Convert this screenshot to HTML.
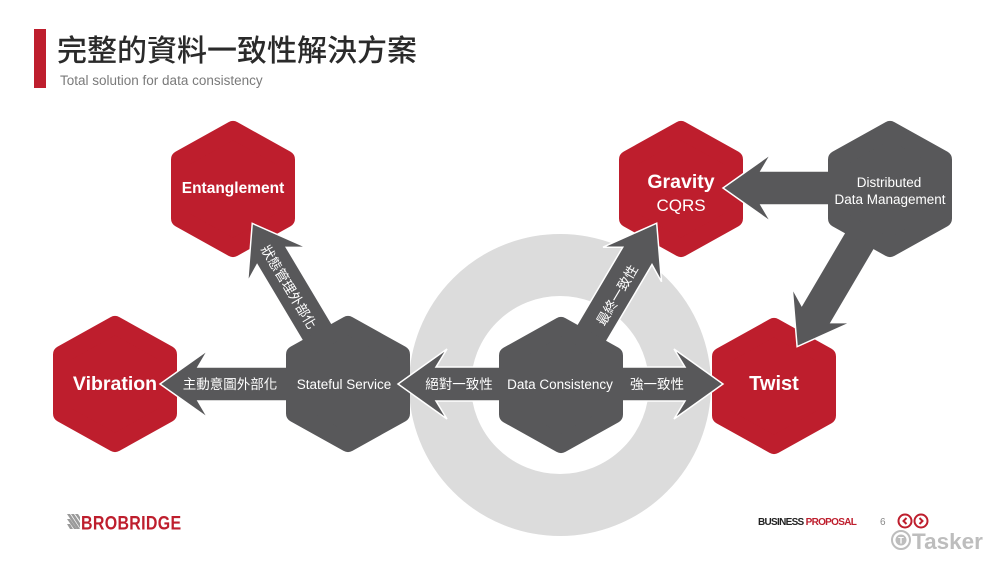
<!DOCTYPE html>
<html><head><meta charset="utf-8"><style>
html,body{margin:0;padding:0;background:#fff;}
body{width:1000px;height:562px;overflow:hidden;position:relative;}
svg{display:block;}
text{font-family:"Liberation Sans","Noto Sans CJK TC",sans-serif;}
</style></head><body>
<svg width="1000" height="562" viewBox="0 0 1000 562" xmlns="http://www.w3.org/2000/svg">
<defs>
<polygon id="hx" points="0,-59 53,-29.5 53,29.5 0,59 -53,29.5 -53,-29.5" stroke-width="18" stroke-linejoin="round"/>
</defs>
<!-- header -->
<rect x="34" y="29" width="12" height="59" fill="#be1e2d"/>
<text x="57" y="61" font-size="30" font-weight="500" fill="#2a2a2a">完整的資料一致性解決方案</text>
<text x="60" y="85" font-size="13.5" fill="#7a7a7a">Total solution for data consistency</text>

<!-- ring -->
<circle cx="560" cy="385" r="120" fill="none" stroke="#dcdcdc" stroke-width="62"/>

<!-- red hexagons -->
<g fill="#be1e2d" stroke="#be1e2d">
<use href="#hx" transform="translate(233,189)"/>
<use href="#hx" transform="translate(115,384)"/>
<use href="#hx" transform="translate(681,189)"/>
<use href="#hx" transform="translate(774,386)"/>
</g>

<!-- arrows from Stateful -->
<g fill="#58585a" stroke="#fff" stroke-width="1.5" stroke-linejoin="miter">
<polygon transform="translate(348,384) rotate(180)" points="0,-17 150,-17 140,-34 188,0 140,34 150,17 0,17"/>
<polygon transform="translate(348,384) rotate(-120.8)" points="0,-17 149,-17 139,-34 187,0 139,34 149,17 0,17"/>
</g>
<use href="#hx" transform="translate(348,384)" fill="#58585a" stroke="#58585a"/>

<!-- arrows from Data Consistency -->
<g fill="#58585a" stroke="#fff" stroke-width="1.5">
<polygon transform="translate(561,384) rotate(180)" points="0,-17 125,-17 114,-35 163,0 114,35 125,17 0,17"/>
<polygon transform="translate(561,384)" points="0,-17 124,-17 113,-35 162,0 113,35 124,17 0,17"/>
<polygon transform="translate(561,385) rotate(-59.4)" points="0,-17 150,-17 140,-34 188,0 140,34 150,17 0,17"/>
</g>
<use href="#hx" transform="translate(561,385)" fill="#58585a" stroke="#58585a"/>

<!-- arrows from Distributed -->
<g fill="#58585a" stroke="#fff" stroke-width="1.5">
<polygon transform="translate(890,188) rotate(180)" points="0,-17 129,-17 119,-34 167,0 119,34 129,17 0,17"/>
<polygon transform="translate(890,189) rotate(120.5)" points="0,-17 145,-17 135,-34 183,0 135,34 145,17 0,17"/>
</g>
<use href="#hx" transform="translate(890,189)" fill="#58585a" stroke="#58585a"/>

<!-- hex labels -->
<g fill="#fff" text-anchor="middle">
<text x="233" y="193" font-size="15.5" font-weight="bold">Entanglement</text>
<text x="115" y="390" font-size="19.5" font-weight="bold">Vibration</text>
<text x="774" y="390" font-size="20" font-weight="bold">Twist</text>
<text x="681" y="188" font-size="19.5" font-weight="bold">Gravity</text>
<text x="681" y="211" font-size="17">CQRS</text>
<text x="344" y="389" font-size="13.5">Stateful Service</text>
<text x="560" y="389" font-size="13.5">Data Consistency</text>
<text x="889" y="187" font-size="13.5">Distributed</text>
<text x="890" y="204" font-size="13.5">Data Management</text>
<!-- arrow labels -->
<text x="230" y="389" font-size="13.5">主動意圖外部化</text>
<text x="459" y="389" font-size="13.5">絕對一致性</text>
<text x="657" y="389" font-size="13.5">強一致性</text>
<text transform="translate(289,287) rotate(59.2)" y="5" font-size="13.5">狀態管理外部化</text>
<text transform="translate(617,295) rotate(-59.4)" y="5" font-size="13.5">最終一致性</text>
</g>

<!-- footer logo -->
<g fill="#9a9a9a">
<polygon points="67,514 70,514 80,529 77,529"/>
<polygon points="67,519 70,519 77,529 74,529"/>
<polygon points="67,524 70,524 73,529 70,529"/>
<polygon points="71,514 74,514 80,523 80,528"/>
<polygon points="75,514 78,514 80,517 80,521"/>
</g>
<text x="81" y="529.5" font-size="19" font-weight="bold" fill="#be1e2d" transform="translate(81,0) scale(0.84,1) translate(-81,0)" letter-spacing="0.4">BROBRIDGE</text>

<text x="758" y="525" font-size="10" font-weight="bold" fill="#222" letter-spacing="-0.7">BUSINESS <tspan fill="#be1e2d">PROPOSAL</tspan></text>
<text x="880" y="525" font-size="10" fill="#888">6</text>
<circle cx="905" cy="521" r="6.5" fill="none" stroke="#be1e2d" stroke-width="2"/>
<polyline points="906.5,518 903.5,521 906.5,524" fill="none" stroke="#be1e2d" stroke-width="2"/>
<circle cx="921" cy="521" r="6.5" fill="none" stroke="#be1e2d" stroke-width="2"/>
<polyline points="919.5,518 922.5,521 919.5,524" fill="none" stroke="#be1e2d" stroke-width="2"/>

<!-- watermark -->
<circle cx="901" cy="540" r="9" fill="none" stroke="#bdbdbd" stroke-width="2"/>
<circle cx="901" cy="540" r="5.5" fill="#bdbdbd"/>
<text x="901" y="543.5" font-size="9" font-weight="bold" fill="#fff" text-anchor="middle">T</text>
<text x="912" y="549" font-size="22.5" font-weight="bold" fill="#bdbdbd">Tasker</text>
</svg>
</body></html>
